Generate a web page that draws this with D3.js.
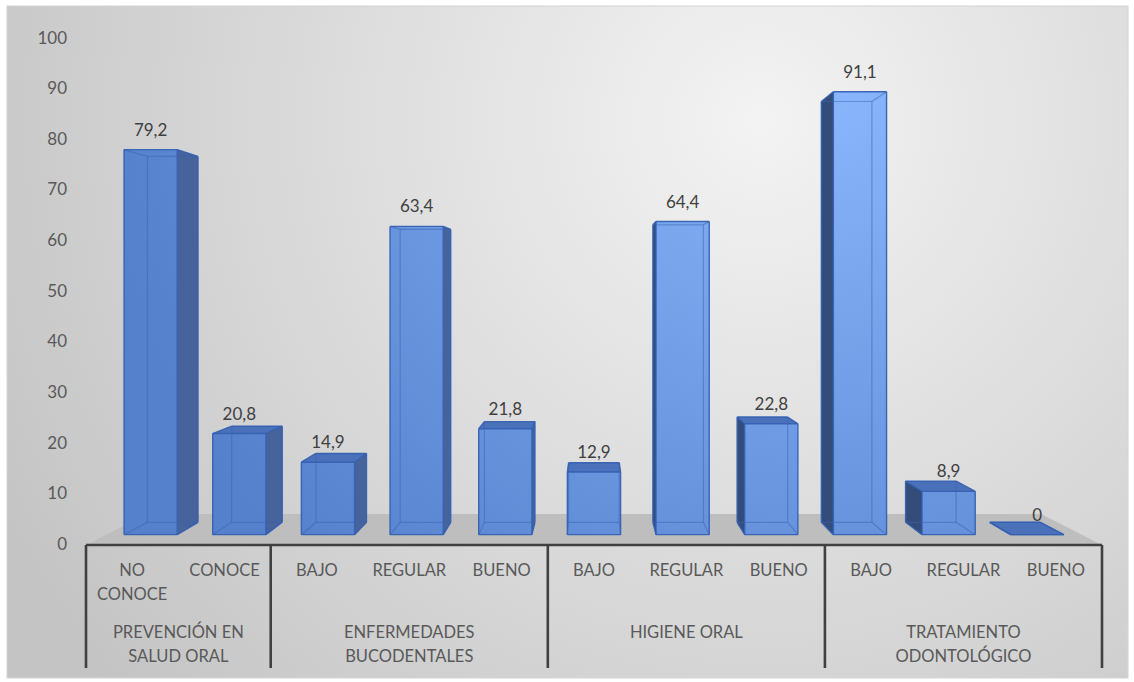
<!DOCTYPE html>
<html>
<head>
<meta charset="utf-8">
<script src="https://cdn.jsdelivr.net/npm/d3@7"></script>
<style>
  html, body { margin: 0; padding: 0; background: #ffffff; }
  svg { display: block; }
  text { font-family: Lato, "Noto Sans", sans-serif; }
</style>
</head>
<body>
<div id="chart"></div>
<script>
// Category labels (one array of lines per column), grouped under the group names
const categories = [
  ["NO", "CONOCE"], ["CONOCE"],
  ["BAJO"], ["REGULAR"], ["BUENO"],
  ["BAJO"], ["REGULAR"], ["BUENO"],
  ["BAJO"], ["REGULAR"], ["BUENO"]
];
const groupNames = [
  ["PREVENCIÓN EN", "SALUD ORAL"],
  ["ENFERMEDADES", "BUCODENTALES"],
  ["HIGIENE ORAL"],
  ["TRATAMIENTO", "ODONTOLÓGICO"]
];
const groupSizes = [2, 3, 3, 3];
const values = [79.2, 20.8, 14.9, 63.4, 21.8, 12.9, 64.4, 22.8, 91.1, 8.9, 0];
const yTicks = [0, 10, 20, 30, 40, 50, 60, 70, 80, 90, 100];

const W = 1134, H = 682;
const svg = d3.select("#chart").append("svg").attr("width", W).attr("height", H);
const defs = svg.append("defs");

// Background of the chart area: soft radial light from the upper right
const bg = defs.append("radialGradient").attr("id", "bgGrad")
  .attr("gradientUnits", "userSpaceOnUse").attr("cx", 760).attr("cy", 120).attr("r", 860);
bg.append("stop").attr("offset", 0).attr("stop-color", "#f3f3f3");
bg.append("stop").attr("offset", 1).attr("stop-color", "#c4c4c4");

// Bar front faces pick up the same light
const bar = defs.append("radialGradient").attr("id", "barGrad")
  .attr("gradientUnits", "userSpaceOnUse").attr("cx", 820).attr("cy", 60).attr("r", 720);
bar.append("stop").attr("offset", 0).attr("stop-color", "rgb(140,184,254)");
bar.append("stop").attr("offset", 1).attr("stop-color", "rgb(84,128,204)");

svg.append("rect").attr("x", 7).attr("y", 6).attr("width", 1121).attr("height", 672)
  .attr("fill", "url(#bgGrad)").attr("stroke", "#d4d4d4").attr("stroke-width", 1);

// Scales
const x = d3.scaleBand().domain(d3.range(values.length)).range([86, 1102])
  .paddingInner(0.4).paddingOuter(0.2);
const y = d3.scaleLinear().domain([0, 100]).range([545, 38.5]);

// Perspective: vanishing point and depth slots of floor / bars
const vp = { x: 593, y: 287 };
const zFloor = 0.136, zFront = 0.0417, zBack = 0.0965;
const project = (px, py, z) => {
  const s = 1 / (1 + z);
  return [vp.x + (px - vp.x) * s, vp.y + (py - vp.y) * s];
};
const poly = pts => pts.map(p => p.join(",")).join(" ");

// Floor
const y0 = y(0);
svg.append("polygon")
  .attr("points", poly([
    project(86, y0, 0), project(1102, y0, 0),
    project(1102, y0, zFloor), project(86, y0, zFloor)
  ]))
  .attr("fill", "#bebebe");

// Y axis tick labels
svg.append("g").selectAll("text").data(yTicks).join("text")
  .attr("x", 67).attr("y", d => y(d) + 5)
  .attr("text-anchor", "end").attr("font-size", 17).attr("fill", "#595959")
  .text(d => d);

// 3D bars
const barsG = svg.append("g");
values.forEach((v, i) => {
  const x0 = x(i), x1 = x(i) + x.bandwidth();
  const yb = y(0), yt = y(v);
  // 8 corners: [x, y, z]
  const C = {
    fbl: [x0, yb, zFront], fbr: [x1, yb, zFront], ftl: [x0, yt, zFront], ftr: [x1, yt, zFront],
    bbl: [x0, yb, zBack], bbr: [x1, yb, zBack], btl: [x0, yt, zBack], btr: [x1, yt, zBack]
  };
  const P = k => project(...C[k]);
  const faces = {
    front: ["fbl", "fbr", "ftr", "ftl"],
    back: ["bbl", "bbr", "btr", "btl"],
    left: ["fbl", "bbl", "btl", "ftl"],
    right: ["fbr", "bbr", "btr", "ftr"],
    top: ["ftl", "ftr", "btr", "btl"],
    bottom: ["fbl", "fbr", "bbr", "bbl"]
  };
  const visible = {
    front: true, back: false,
    left: x0 > vp.x, right: x1 < vp.x,
    top: yt > vp.y, bottom: yb < vp.y
  };
  const g = barsG.append("g");
  if (visible.left) g.append("polygon").attr("points", poly(faces.left.map(P))).attr("fill", "#334c7a");
  if (visible.right) g.append("polygon").attr("points", poly(faces.right.map(P))).attr("fill", "#46639c");
  if (visible.top) g.append("polygon").attr("points", poly(faces.top.map(P))).attr("fill", "#4a71b9");
  g.append("polygon").attr("points", poly(faces.front.map(P))).attr("fill", "url(#barGrad)");

  // Edges: hidden ones shine faintly through the translucent bar
  const edges = [
    ["fbl", "fbr"], ["fbr", "ftr"], ["ftr", "ftl"], ["ftl", "fbl"],
    ["bbl", "bbr"], ["bbr", "btr"], ["btr", "btl"], ["btl", "bbl"],
    ["fbl", "bbl"], ["fbr", "bbr"], ["ftl", "btl"], ["ftr", "btr"]
  ];
  edges.forEach(([a, b]) => {
    const shown = Object.keys(faces).some(f => visible[f] && faces[f].includes(a) && faces[f].includes(b));
    const pa = P(a), pb = P(b);
    g.append("line")
      .attr("x1", pa[0]).attr("y1", pa[1]).attr("x2", pb[0]).attr("y2", pb[1])
      .attr("stroke", shown ? "#3560b2" : "#3a64b4")
      .attr("stroke-opacity", shown ? 0.95 : 0.5)
      .attr("stroke-width", shown ? 1.4 : 1.2);
  });

  // Value label above the front face
  const ft = project(x0 + x.bandwidth() / 2, yt, zFront);
  svg.append("text")
    .attr("x", ft[0]).attr("y", ft[1] - 14)
    .attr("text-anchor", "middle").attr("font-size", 17).attr("fill", "#404040")
    .text(String(v).replace(".", ","));
});

// Category axis line and group separators
const axisG = svg.append("g").attr("stroke", "#404040").attr("stroke-width", 2.6);
axisG.append("line").attr("x1", 86).attr("x2", 1102).attr("y1", 545).attr("y2", 545);
const bounds = [0, ...d3.cumsum(groupSizes)];
bounds.forEach(k => {
  const bx = 86 + k * x.step();
  axisG.append("line").attr("x1", bx).attr("x2", bx).attr("y1", 545).attr("y2", 668);
});

// Category labels
const catG = svg.append("g").attr("font-size", 16.5).attr("fill", "#595959").attr("text-anchor", "middle");
categories.forEach((lines, i) => {
  const t = catG.append("text").attr("x", x(i) + x.bandwidth() / 2).attr("y", 576);
  lines.forEach((ln, j) => t.append("tspan").attr("x", x(i) + x.bandwidth() / 2).attr("dy", j === 0 ? 0 : 24).text(ln));
});

// Group labels
groupNames.forEach((lines, gi) => {
  const cx = 86 + (bounds[gi] + bounds[gi + 1]) / 2 * x.step();
  const t = catG.append("text").attr("x", cx).attr("y", 638);
  lines.forEach((ln, j) => t.append("tspan").attr("x", cx).attr("dy", j === 0 ? 0 : 24).text(ln));
});
</script>
</body>
</html>
